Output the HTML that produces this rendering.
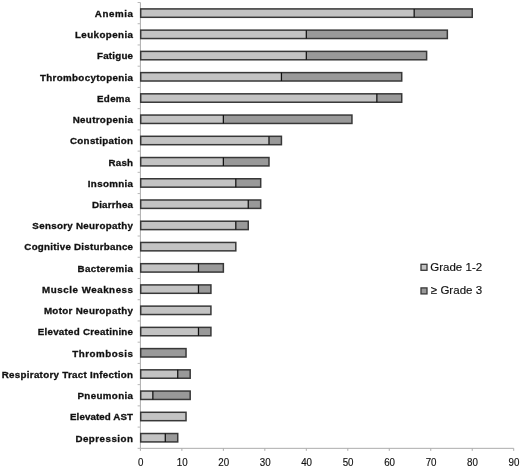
<!DOCTYPE html><html><head><meta charset="utf-8"><title>Adverse events</title><style>html,body{margin:0;padding:0;background:#fff}svg{display:block}text{font-family:"Liberation Sans",Arial,sans-serif;fill:#111}.l{font-weight:bold;stroke:#111;stroke-width:0.3px;font-size:9.4px;text-anchor:end}.n{font-size:10.4px;stroke:#111;stroke-width:0.15px;text-anchor:middle}.g{font-size:11.5px;stroke:#111;stroke-width:0.15px}</style></head><body>
<svg width="520" height="469" viewBox="0 0 520 469">
<rect width="520" height="469" fill="#fff"/>
<g stroke="#acacac" stroke-width="1" fill="none">
<path d="M140.4 2.5V448.33H513.72"/>
<path d="M137.6 2.50H140.4" stroke="#b8b8b8"/>
<path d="M137.6 23.73H140.4" stroke="#b8b8b8"/>
<path d="M137.6 44.96H140.4" stroke="#b8b8b8"/>
<path d="M137.6 66.19H140.4" stroke="#b8b8b8"/>
<path d="M137.6 87.42H140.4" stroke="#b8b8b8"/>
<path d="M137.6 108.65H140.4" stroke="#b8b8b8"/>
<path d="M137.6 129.88H140.4" stroke="#b8b8b8"/>
<path d="M137.6 151.11H140.4" stroke="#b8b8b8"/>
<path d="M137.6 172.34H140.4" stroke="#b8b8b8"/>
<path d="M137.6 193.57H140.4" stroke="#b8b8b8"/>
<path d="M137.6 214.80H140.4" stroke="#b8b8b8"/>
<path d="M137.6 236.03H140.4" stroke="#b8b8b8"/>
<path d="M137.6 257.26H140.4" stroke="#b8b8b8"/>
<path d="M137.6 278.49H140.4" stroke="#b8b8b8"/>
<path d="M137.6 299.72H140.4" stroke="#b8b8b8"/>
<path d="M137.6 320.95H140.4" stroke="#b8b8b8"/>
<path d="M137.6 342.18H140.4" stroke="#b8b8b8"/>
<path d="M137.6 363.41H140.4" stroke="#b8b8b8"/>
<path d="M137.6 384.64H140.4" stroke="#b8b8b8"/>
<path d="M137.6 405.87H140.4" stroke="#b8b8b8"/>
<path d="M137.6 427.10H140.4" stroke="#b8b8b8"/>
<path d="M137.6 448.33H140.4" stroke="#b8b8b8"/>
<path d="M140.40 448.33V450.83"/>
<path d="M181.88 448.33V450.83"/>
<path d="M223.36 448.33V450.83"/>
<path d="M264.84 448.33V450.83"/>
<path d="M306.32 448.33V450.83"/>
<path d="M347.80 448.33V450.83"/>
<path d="M389.28 448.33V450.83"/>
<path d="M430.76 448.33V450.83"/>
<path d="M472.24 448.33V450.83"/>
<path d="M513.72 448.33V450.83"/>
</g>
<rect x="140.40" y="8.91" width="273.77" height="8.4" fill="#c3c3c3"/>
<rect x="414.17" y="8.91" width="58.07" height="8.4" fill="#999999"/>
<rect x="140.70" y="8.91" width="331.54" height="8.4" fill="none" stroke="#383838" stroke-width="1.5"/>
<path d="M414.17 8.91v8.4" stroke="#111" stroke-width="1.25"/>
<text class="l" transform="translate(133 16.91) scale(1.04 1)" textLength="36.7" lengthAdjust="spacing">Anemia</text>
<rect x="140.40" y="30.14" width="165.92" height="8.4" fill="#c3c3c3"/>
<rect x="306.32" y="30.14" width="141.03" height="8.4" fill="#999999"/>
<rect x="140.70" y="30.14" width="306.65" height="8.4" fill="none" stroke="#383838" stroke-width="1.5"/>
<path d="M306.32 30.14v8.4" stroke="#111" stroke-width="1.25"/>
<text class="l" transform="translate(133 38.14) scale(1.04 1)" textLength="55.9" lengthAdjust="spacing">Leukopenia</text>
<rect x="140.40" y="51.38" width="165.92" height="8.4" fill="#c3c3c3"/>
<rect x="306.32" y="51.38" width="120.29" height="8.4" fill="#999999"/>
<rect x="140.70" y="51.38" width="285.91" height="8.4" fill="none" stroke="#383838" stroke-width="1.5"/>
<path d="M306.32 51.38v8.4" stroke="#111" stroke-width="1.25"/>
<text class="l" transform="translate(133 59.38) scale(1.04 1)" textLength="34.6" lengthAdjust="spacing">Fatigue</text>
<rect x="140.40" y="72.61" width="141.03" height="8.4" fill="#c3c3c3"/>
<rect x="281.43" y="72.61" width="120.29" height="8.4" fill="#999999"/>
<rect x="140.70" y="72.61" width="261.02" height="8.4" fill="none" stroke="#383838" stroke-width="1.5"/>
<path d="M281.43 72.61v8.4" stroke="#111" stroke-width="1.25"/>
<text class="l" transform="translate(133 80.61) scale(1.04 1)" textLength="89.5" lengthAdjust="spacing">Thrombocytopenia</text>
<rect x="140.40" y="93.83" width="236.44" height="8.4" fill="#c3c3c3"/>
<rect x="376.84" y="93.83" width="24.89" height="8.4" fill="#999999"/>
<rect x="140.70" y="93.83" width="261.02" height="8.4" fill="none" stroke="#383838" stroke-width="1.5"/>
<path d="M376.84 93.83v8.4" stroke="#111" stroke-width="1.25"/>
<text class="l" transform="translate(130.3 101.83) scale(1.04 1)" textLength="32.0" lengthAdjust="spacing">Edema</text>
<rect x="140.40" y="115.06" width="82.96" height="8.4" fill="#c3c3c3"/>
<rect x="223.36" y="115.06" width="128.59" height="8.4" fill="#999999"/>
<rect x="140.70" y="115.06" width="211.25" height="8.4" fill="none" stroke="#383838" stroke-width="1.5"/>
<path d="M223.36 115.06v8.4" stroke="#111" stroke-width="1.25"/>
<text class="l" transform="translate(133 123.06) scale(1.04 1)" textLength="58.0" lengthAdjust="spacing">Neutropenia</text>
<rect x="140.40" y="136.30" width="128.59" height="8.4" fill="#c3c3c3"/>
<rect x="268.99" y="136.30" width="12.44" height="8.4" fill="#999999"/>
<rect x="140.70" y="136.30" width="140.73" height="8.4" fill="none" stroke="#383838" stroke-width="1.5"/>
<path d="M268.99 136.30v8.4" stroke="#111" stroke-width="1.25"/>
<text class="l" transform="translate(133 144.30) scale(1.04 1)" textLength="60.6" lengthAdjust="spacing">Constipation</text>
<rect x="140.40" y="157.53" width="82.96" height="8.4" fill="#c3c3c3"/>
<rect x="223.36" y="157.53" width="45.63" height="8.4" fill="#999999"/>
<rect x="140.70" y="157.53" width="128.29" height="8.4" fill="none" stroke="#383838" stroke-width="1.5"/>
<path d="M223.36 157.53v8.4" stroke="#111" stroke-width="1.25"/>
<text class="l" transform="translate(133 165.53) scale(1.04 1)" textLength="23.6" lengthAdjust="spacing">Rash</text>
<rect x="140.40" y="178.76" width="95.40" height="8.4" fill="#c3c3c3"/>
<rect x="235.80" y="178.76" width="24.89" height="8.4" fill="#999999"/>
<rect x="140.70" y="178.76" width="119.99" height="8.4" fill="none" stroke="#383838" stroke-width="1.5"/>
<path d="M235.80 178.76v8.4" stroke="#111" stroke-width="1.25"/>
<text class="l" transform="translate(133 186.76) scale(1.04 1)" textLength="43.5" lengthAdjust="spacing">Insomnia</text>
<rect x="140.40" y="199.99" width="107.85" height="8.4" fill="#c3c3c3"/>
<rect x="248.25" y="199.99" width="12.44" height="8.4" fill="#999999"/>
<rect x="140.70" y="199.99" width="119.99" height="8.4" fill="none" stroke="#383838" stroke-width="1.5"/>
<path d="M248.25 199.99v8.4" stroke="#111" stroke-width="1.25"/>
<text class="l" transform="translate(133 207.99) scale(1.04 1)" textLength="39.5" lengthAdjust="spacing">Diarrhea</text>
<rect x="140.40" y="221.22" width="95.40" height="8.4" fill="#c3c3c3"/>
<rect x="235.80" y="221.22" width="12.44" height="8.4" fill="#999999"/>
<rect x="140.70" y="221.22" width="107.55" height="8.4" fill="none" stroke="#383838" stroke-width="1.5"/>
<path d="M235.80 221.22v8.4" stroke="#111" stroke-width="1.25"/>
<text class="l" transform="translate(133 229.22) scale(1.04 1)" textLength="96.8" lengthAdjust="spacing">Sensory Neuropathy</text>
<rect x="140.40" y="242.45" width="95.40" height="8.4" fill="#c3c3c3"/>
<rect x="140.70" y="242.45" width="95.10" height="8.4" fill="none" stroke="#383838" stroke-width="1.5"/>
<text class="l" transform="translate(133 250.45) scale(1.04 1)" textLength="104.5" lengthAdjust="spacing">Cognitive Disturbance</text>
<rect x="140.40" y="263.68" width="58.07" height="8.4" fill="#c3c3c3"/>
<rect x="198.47" y="263.68" width="24.89" height="8.4" fill="#999999"/>
<rect x="140.70" y="263.68" width="82.66" height="8.4" fill="none" stroke="#383838" stroke-width="1.5"/>
<path d="M198.47 263.68v8.4" stroke="#111" stroke-width="1.25"/>
<text class="l" transform="translate(133 271.68) scale(1.04 1)" textLength="53.3" lengthAdjust="spacing">Bacteremia</text>
<rect x="140.40" y="284.91" width="58.07" height="8.4" fill="#c3c3c3"/>
<rect x="198.47" y="284.91" width="12.44" height="8.4" fill="#999999"/>
<rect x="140.70" y="284.91" width="70.22" height="8.4" fill="none" stroke="#383838" stroke-width="1.5"/>
<path d="M198.47 284.91v8.4" stroke="#111" stroke-width="1.25"/>
<text class="l" transform="translate(133 292.91) scale(1.04 1)" textLength="87.5" lengthAdjust="spacing">Muscle Weakness</text>
<rect x="140.40" y="306.13" width="70.52" height="8.4" fill="#c3c3c3"/>
<rect x="140.70" y="306.13" width="70.22" height="8.4" fill="none" stroke="#383838" stroke-width="1.5"/>
<text class="l" transform="translate(133 314.13) scale(1.04 1)" textLength="85.7" lengthAdjust="spacing">Motor Neuropathy</text>
<rect x="140.40" y="327.37" width="58.07" height="8.4" fill="#c3c3c3"/>
<rect x="198.47" y="327.37" width="12.44" height="8.4" fill="#999999"/>
<rect x="140.70" y="327.37" width="70.22" height="8.4" fill="none" stroke="#383838" stroke-width="1.5"/>
<path d="M198.47 327.37v8.4" stroke="#111" stroke-width="1.25"/>
<text class="l" transform="translate(133 335.37) scale(1.04 1)" textLength="91.6" lengthAdjust="spacing">Elevated Creatinine</text>
<rect x="140.40" y="348.60" width="45.63" height="8.4" fill="#999999"/>
<rect x="140.70" y="348.60" width="45.33" height="8.4" fill="none" stroke="#383838" stroke-width="1.5"/>
<text class="l" transform="translate(133 356.60) scale(1.04 1)" textLength="58.5" lengthAdjust="spacing">Thrombosis</text>
<rect x="140.40" y="369.83" width="37.33" height="8.4" fill="#c3c3c3"/>
<rect x="177.73" y="369.83" width="12.44" height="8.4" fill="#999999"/>
<rect x="140.70" y="369.83" width="49.48" height="8.4" fill="none" stroke="#383838" stroke-width="1.5"/>
<path d="M177.73 369.83v8.4" stroke="#111" stroke-width="1.25"/>
<text class="l" transform="translate(133 377.83) scale(1.04 1)" textLength="126.2" lengthAdjust="spacing">Respiratory Tract Infection</text>
<rect x="140.40" y="391.06" width="12.44" height="8.4" fill="#c3c3c3"/>
<rect x="152.84" y="391.06" width="37.33" height="8.4" fill="#999999"/>
<rect x="140.70" y="391.06" width="49.48" height="8.4" fill="none" stroke="#383838" stroke-width="1.5"/>
<path d="M152.84 391.06v8.4" stroke="#111" stroke-width="1.25"/>
<text class="l" transform="translate(133 399.06) scale(1.04 1)" textLength="53.4" lengthAdjust="spacing">Pneumonia</text>
<rect x="140.40" y="412.29" width="45.63" height="8.4" fill="#c3c3c3"/>
<rect x="140.70" y="412.29" width="45.33" height="8.4" fill="none" stroke="#383838" stroke-width="1.5"/>
<text class="l" transform="translate(133 420.29) scale(1.04 1)" textLength="60.6" lengthAdjust="spacing">Elevated AST</text>
<rect x="140.40" y="433.52" width="24.89" height="8.4" fill="#c3c3c3"/>
<rect x="165.29" y="433.52" width="12.44" height="8.4" fill="#999999"/>
<rect x="140.70" y="433.52" width="37.03" height="8.4" fill="none" stroke="#383838" stroke-width="1.5"/>
<path d="M165.29 433.52v8.4" stroke="#111" stroke-width="1.25"/>
<text class="l" transform="translate(133 441.52) scale(1.04 1)" textLength="55.4" lengthAdjust="spacing">Depression</text>
<text class="n" transform="translate(140.70 466.2) scale(0.94 1)">0</text>
<text class="n" transform="translate(182.18 466.2) scale(0.94 1)">10</text>
<text class="n" transform="translate(223.66 466.2) scale(0.94 1)">20</text>
<text class="n" transform="translate(265.14 466.2) scale(0.94 1)">30</text>
<text class="n" transform="translate(306.62 466.2) scale(0.94 1)">40</text>
<text class="n" transform="translate(348.10 466.2) scale(0.94 1)">50</text>
<text class="n" transform="translate(389.58 466.2) scale(0.94 1)">60</text>
<text class="n" transform="translate(431.06 466.2) scale(0.94 1)">70</text>
<text class="n" transform="translate(472.54 466.2) scale(0.94 1)">80</text>
<text class="n" transform="translate(514.02 466.2) scale(0.94 1)">90</text>
<rect x="421" y="264.3" width="6" height="6" fill="#c3c3c3" stroke="#383838" stroke-width="1.3"/>
<rect x="421" y="287.9" width="6" height="6" fill="#999999" stroke="#383838" stroke-width="1.3"/>
<text class="g" x="430.2" y="270.6" textLength="52" lengthAdjust="spacing">Grade 1-2</text>
<text class="g" x="430.8" y="294.4" textLength="51.4" lengthAdjust="spacing">≥ Grade 3</text>
</svg></body></html>
